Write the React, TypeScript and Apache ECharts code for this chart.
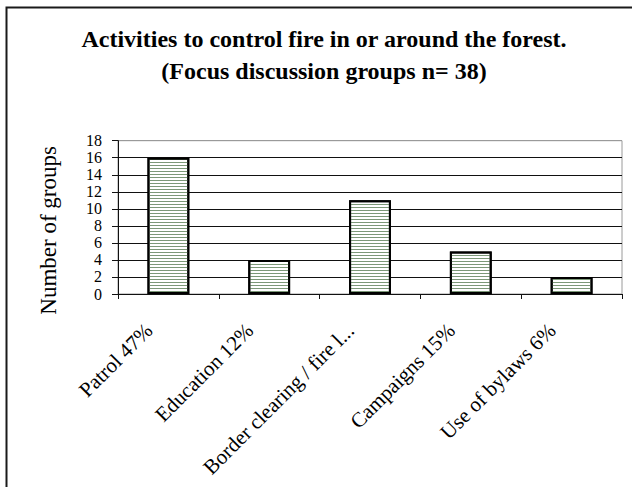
import React, { useEffect, useRef } from "react";
import * as echarts from "echarts";

const TITLE_LINES = ["Activities to control fire in or around the forest.", "(Focus discussion groups n= 38)"];
const CATEGORIES = ["Patrol 47%", "Education 12%", "Border clearing / fire l...", "Campaigns 15%", "Use of bylaws 6%"];
const VALUES = [16, 4, 11, 5, 2];
const Y_NAME = "Number of groups";
const Y_MIN = 0;
const Y_MAX = 18;
const Y_STEP = 2;

const FONT = "'Liberation Serif', 'Times New Roman', serif";

export default function App() {
  const ref = useRef<HTMLDivElement>(null);
  useEffect(() => {
    if (!ref.current) return;
    const chart = echarts.init(ref.current, null, { renderer: "svg" });
    const nLines = (Y_MAX - Y_MIN) / Y_STEP + 1;
    const splitColors = Array.from({ length: nLines }, (_, i) => (i === nLines - 1 ? "#9a9a9a" : "#111"));
    chart.setOption({
      animation: false,
      backgroundColor: "#fff",
      title: {
        text: TITLE_LINES.join("\n"),
        left: 319,
        top: 18,
        textAlign: "center",
        textStyle: { fontFamily: FONT, fontSize: 24, fontWeight: "bold", color: "#000", lineHeight: 32 },
      },
      graphic: [
        {
          type: "rect",
          shape: { x: 6.5, y: 7.5, width: 640, height: 500 },
          style: { fill: "none", stroke: "#1a1a1a", lineWidth: 2 },
          silent: true,
        },
      ],
      grid: { left: 118, right: 10, top: 140.7, bottom: 193, show: true, borderColor: "#9a9a9a", borderWidth: 1, backgroundColor: "transparent" },
      xAxis: {
        type: "category",
        data: CATEGORIES,
        axisLine: { lineStyle: { color: "#111", width: 1 } },
        axisTick: { show: true, length: 5, lineStyle: { color: "#111" } },
        axisLabel: {
          rotate: 45,
          interval: 0,
          align: "right",
          verticalAlign: "bottom",
          margin: 44,
          padding: [0, 6, 11, 0],
          fontFamily: FONT,
          fontSize: 21,
          color: "#000",
        },
      },
      yAxis: {
        type: "value",
        min: Y_MIN,
        max: Y_MAX,
        interval: Y_STEP,
        name: Y_NAME,
        nameLocation: "middle",
        nameGap: 58,
        nameTextStyle: { fontFamily: FONT, fontSize: 23, color: "#000", padding: [0, 26, 0, 0] },
        axisLine: { show: true, lineStyle: { color: "#111", width: 1 } },
        axisTick: { show: true, length: 6, lineStyle: { color: "#111" } },
        axisLabel: {
          fontFamily: FONT,
          fontSize: 16,
          lineHeight: 16,
          color: "#000",
          margin: 16,
          showMinLabel: true,
          showMaxLabel: true,
        },
        splitLine: { show: true, lineStyle: { color: splitColors, width: 1 } },
      },
      series: [
        {
          type: "bar",
          data: VALUES,
          barWidth: "41.5%",
          itemStyle: {
            color: "#ffffff",
            borderColor: "#000",
            borderWidth: 2,
            decal: {
              symbol: "rect",
              symbolSize: 1,
              dashArrayX: [1, 0],
              dashArrayY: [1, 2],
              rotation: 0,
              color: "#7c9878",
            },
          },
        },
      ],
    });
    return () => chart.dispose();
  }, []);
  return <div ref={ref} style={{ position: "fixed", left: 0, top: 0, width: 632, height: 487 }} />;
}
